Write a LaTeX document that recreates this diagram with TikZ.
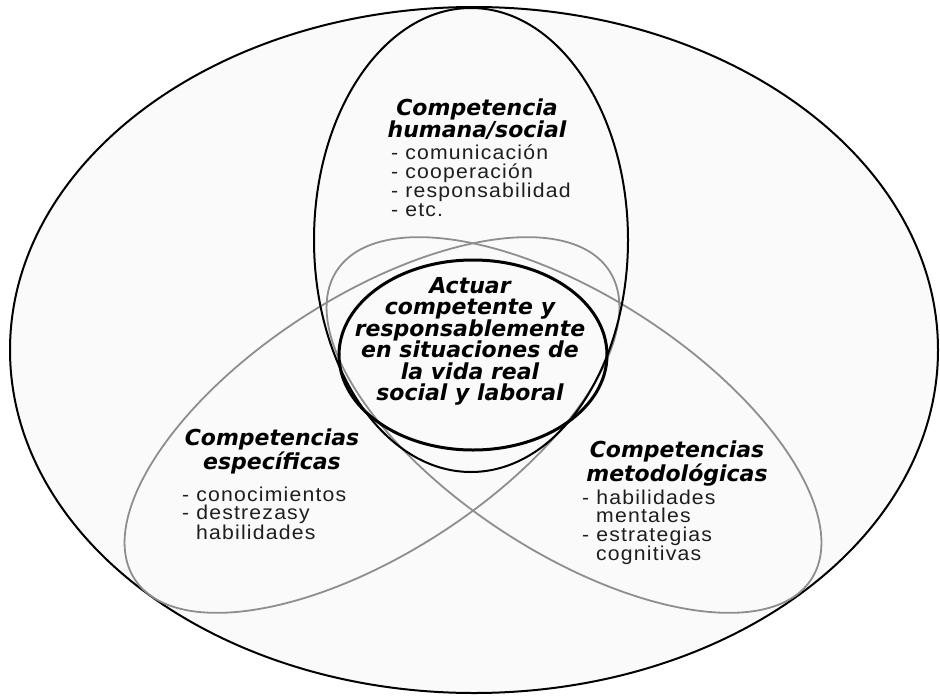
\documentclass[tikz,border=0pt]{standalone}
\usepackage{fontspec}
\usepackage{tikz}
\usetikzlibrary{positioning}
\newfontfamily\headfont{DejaVu Sans}
\newfontfamily\listfont[FakeStretch=1.06,LetterSpace=6]{Liberation Sans}
\definecolor{ringgray}{HTML}{8E8E8E}
\definecolor{paper}{HTML}{FAFAFA}
\definecolor{itemtext}{HTML}{1E1E1E}

\tikzset{
  heading/.style={font=\headfont\bfseries\itshape\fontsize{22}{21.5}\selectfont,
                  align=center, inner sep=0pt},
  items/.style={font=\listfont\fontsize{20}{18.3}\selectfont, text=itemtext,
                align=left, inner sep=0pt},
}

\begin{document}
\begin{tikzpicture}[x=1pt, y=1pt]
  \useasboundingbox (0,0) rectangle (940,-696);
  % outer ring
  \draw[line width=2pt, fill=paper] (474,-350) ellipse [x radius=464, y radius=343];
  % tilted gray ellipses
  \draw[ringgray, line width=1.8pt] (372,-425) ellipse [x radius=283, y radius=128, rotate=33];
  \draw[ringgray, line width=1.8pt] (574,-425) ellipse [x radius=283, y radius=128, rotate=-33];
  % upright ellipse and core
  \draw[line width=2pt] (471,-240) ellipse [x radius=157, y radius=232];
  \draw[line width=3pt] (473,-355) ellipse [x radius=134, y radius=95];

  \node[heading, anchor=north] (humtitle) at (477,-99) {Competencia\\humana/social};
  \node[items, anchor=north west] (humlist) at (391,-145)
    {- comunicación\\- cooperación\\- responsabilidad\\- etc.};

  \node[heading, anchor=north] (core) at (470,-277)
    {Actuar\\competente y\\responsablemente\\en situaciones de\\la vida real\\social y laboral};

  \node[heading, anchor=north] (spectitle) at (272,-429) {Competencias\\específicas};
  \node[items, anchor=north west] (speclist) at (182,-487)
    {- conocimientos\\- destrezasy\\\hspace*{14pt}habilidades};

  \node[heading, anchor=north] (metitle) at (677,-441) {Competencias\\metodológicas};
  \node[items, anchor=north west] (melist) at (582,-490)
    {- habilidades\\\hspace*{14pt}mentales\\- estrategias\\\hspace*{14pt}cognitivas};
\end{tikzpicture}
\end{document}
